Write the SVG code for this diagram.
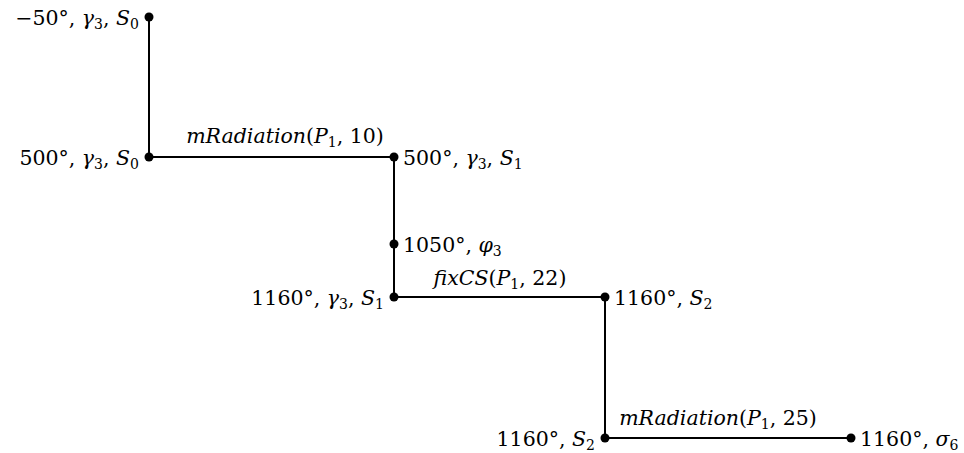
<svg xmlns="http://www.w3.org/2000/svg" width="964" height="453" viewBox="0 0 964 453">
<style>
text{font-family:"DejaVu Serif","Liberation Serif",serif;font-size:20.5px;fill:#000}
.i{font-style:italic}
.s{font-size:14px}
.e{text-anchor:end}
.m{text-anchor:middle}
line{stroke:#000;stroke-width:2}
circle{fill:#000}
</style>
<rect width="964" height="453" fill="#fff"/>
<g id="connectors">
<line x1="149" y1="17" x2="149" y2="157"/>
<line x1="149" y1="157" x2="394" y2="157"/>
<line x1="394" y1="157" x2="394" y2="297"/>
<line x1="394" y1="297" x2="605" y2="297"/>
<line x1="605" y1="297" x2="605" y2="438"/>
<line x1="605" y1="438" x2="851" y2="438"/>
<text class="m" x="285" y="143"><tspan class="i">mRadiation</tspan>(<tspan class="i">P</tspan><tspan class="s" dy="4">1</tspan><tspan dy="-4">, 10)</tspan></text>
<text class="m" x="500" y="285"><tspan class="i">fixCS</tspan>(<tspan class="i">P</tspan><tspan class="s" dy="4">1</tspan><tspan dy="-4">, 22)</tspan></text>
<text class="m" x="718" y="425"><tspan class="i">mRadiation</tspan>(<tspan class="i">P</tspan><tspan class="s" dy="4">1</tspan><tspan dy="-4">, 25)</tspan></text>
</g>
<g id="n1"><circle cx="149" cy="17" r="4.5"/><text class="e" x="139" y="25">−50°, <tspan class="i">γ</tspan><tspan class="s" dy="4">3</tspan><tspan dy="-4">, </tspan><tspan class="i">S</tspan><tspan class="s" dy="4">0</tspan></text></g>
<g id="n2"><circle cx="149" cy="157" r="4.5"/><text class="e" x="139" y="165">500°, <tspan class="i">γ</tspan><tspan class="s" dy="4">3</tspan><tspan dy="-4">, </tspan><tspan class="i">S</tspan><tspan class="s" dy="4">0</tspan></text></g>
<g id="n3"><circle cx="394" cy="157" r="4.5"/><text x="403" y="165">500°, <tspan class="i">γ</tspan><tspan class="s" dy="4">3</tspan><tspan dy="-4">, </tspan><tspan class="i">S</tspan><tspan class="s" dy="4">1</tspan></text></g>
<g id="n4"><circle cx="394" cy="244" r="4.5"/><text x="403" y="252">1050°, <tspan class="i">φ</tspan><tspan class="s" dy="4">3</tspan></text></g>
<g id="n5"><circle cx="394" cy="297" r="4.5"/><text class="e" x="384" y="305">1160°, <tspan class="i">γ</tspan><tspan class="s" dy="4">3</tspan><tspan dy="-4">, </tspan><tspan class="i">S</tspan><tspan class="s" dy="4">1</tspan></text></g>
<g id="n6"><circle cx="605" cy="297" r="4.5"/><text x="614" y="305">1160°, <tspan class="i">S</tspan><tspan class="s" dy="4">2</tspan></text></g>
<g id="n7"><circle cx="605" cy="438" r="4.5"/><text class="e" x="595" y="446">1160°, <tspan class="i">S</tspan><tspan class="s" dy="4">2</tspan></text></g>
<g id="n8"><circle cx="851" cy="438" r="4.5"/><text x="860" y="446">1160°, <tspan class="i">σ</tspan><tspan class="s" dy="4">6</tspan></text></g>
</svg>
